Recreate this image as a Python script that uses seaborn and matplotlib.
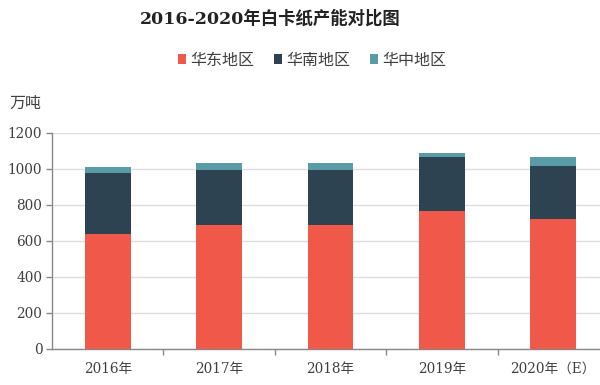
import numpy as np
import pandas as pd
import matplotlib
matplotlib.use("Agg")
import matplotlib.pyplot as plt
import seaborn as sns
from matplotlib.patches import Patch

categories = ["2016年", "2017年", "2018年", "2019年", "2020年（E）"]
east = [637, 690, 690, 765, 720]
south = [343, 303, 303, 300, 298]
central = [31, 42, 42, 26, 47]
series_names = ["华东地区", "华南地区", "华中地区"]
colors = ["#F0594A", "#2D4352", "#5A9CA5"]
yticks = [0, 200, 400, 600, 800, 1000, 1200]

sns.set_theme(style="white")
plt.rcParams["font.family"] = ["DejaVu Serif", "Noto Sans CJK SC"]

df = pd.DataFrame({"cat": categories, "east": east, "south": south, "central": central})
df["s1"] = df["east"]
df["s2"] = df["east"] + df["south"]
df["s3"] = df["s2"] + df["central"]

fig = plt.figure(figsize=(6, 3.85), dpi=100)
ax = fig.add_axes([52/600, 1-349/385, 557/600, 216/385])

for col, c in zip(["s3", "s2", "s1"], [colors[2], colors[1], colors[0]]):
    sns.barplot(data=df, x="cat", y=col, color=c, width=0.41, ax=ax,
                saturation=1, edgecolor="none", linewidth=0, zorder=3)

ax.set_ylim(0, 1200)
ax.set_xlim(-0.5, 4.5)
ax.set_yticks(yticks)
ax.set_yticklabels([str(v) for v in yticks], fontsize=9.8, color="#404040")
ax.set_xticks(range(len(categories)))
ax.set_xticklabels(categories, fontsize=9.8, color="#404040")
ax.tick_params(axis="x", length=0, pad=9)
ax.tick_params(axis="y", length=4, width=1, color="#888888", direction="out", left=True, pad=3)
ax.set_xticks(np.arange(0.5, 4.5, 1), minor=True)
ax.tick_params(axis="x", which="minor", length=4, width=1, color="#888888", direction="out", bottom=True)
ax.set_xlabel("")
ax.set_ylabel("")
ax.yaxis.grid(True, color="#DDDDDD", linewidth=1, zorder=0)
ax.set_axisbelow(True)
for s in ["top", "right"]:
    ax.spines[s].set_visible(False)
for s in ["left", "bottom"]:
    ax.spines[s].set_color("#888888")
    ax.spines[s].set_linewidth(1)

fig.text(270/600, 1-19/385, "2016-2020年白卡纸产能对比图", ha="center", va="center",
         fontsize=12.5, fontweight="bold", color="#222222",
         family=["DejaVu Serif", "Noto Sans CJK SC"])
fig.text(9/600, 1-103/385, "万吨", ha="left", va="center", fontsize=11.5,
         color="#404040", family=["Noto Sans CJK SC"])

handles = [Patch(facecolor=c, edgecolor="none", label=n) for n, c in zip(series_names, colors)]
leg = fig.legend(handles=handles, loc="center", bbox_to_anchor=(312/600, 1-60/385), ncol=3,
                 frameon=False, handlelength=0.55, handleheight=0.55,
                 handletextpad=0.25, columnspacing=1.2,
                 prop={"family": ["Noto Sans CJK SC"], "size": 11.5})
for t in leg.get_texts():
    t.set_color("#404040")

fig.savefig("out.png", dpi=100)
